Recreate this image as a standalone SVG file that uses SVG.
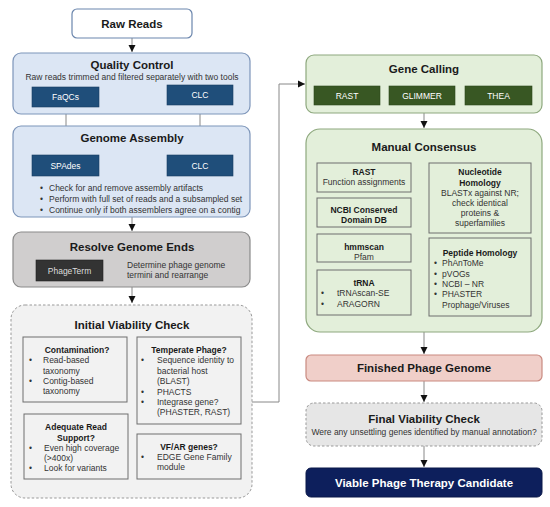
<svg xmlns="http://www.w3.org/2000/svg" width="550" height="507" viewBox="0 0 550 507">
<defs>
<marker id="ah" markerWidth="8" markerHeight="8" refX="7" refY="4" orient="auto" markerUnits="userSpaceOnUse">
<path d="M0,0.5 L7,4 L0,7.5 Z" fill="#111"/>
</marker>
<style>
text{font-family:"Liberation Sans",Arial,sans-serif;fill:#222}
.t{font-size:11.5px;font-weight:bold;text-anchor:middle;fill:#1a1a1a}
.s{font-size:8.5px;text-anchor:middle;fill:#333}
.b{font-size:8.5px;fill:#333}
.h{font-size:8.5px;font-weight:bold;text-anchor:middle;fill:#1a1a1a}
.w{font-size:8.5px;text-anchor:middle;fill:#fff}
.qc{fill:#dce6f4;stroke:#7d95b9;stroke-width:1.2}
.gc{fill:#e3efda;stroke:#8ea87e;stroke-width:1.2}
.blue{fill:#1f4e7a;stroke:#1a3f63;stroke-width:0.6}
.green{fill:#385723;stroke:#2c461c;stroke-width:0.6}
.inb{fill:#f2f2f2;stroke:#6e6e6e;stroke-width:1}
.ing{fill:#e3efda;stroke:#6e6e6e;stroke-width:1}
.conn{fill:none;stroke:#888;stroke-width:1;marker-end:url(#ah)}
</style>
</defs>

<g id="connectors">
<path class="conn" d="M132,38 V52"/>
<path class="conn" d="M66,107 V154"/>
<path class="conn" d="M200,105 V154"/>
<path class="conn" d="M132,217 V231"/>
<path class="conn" d="M132,287 V303"/>
<path class="conn" d="M252,402 H279 V84 H305"/>
<path class="conn" d="M424,113 V128"/>
<path class="conn" d="M424,332 V354"/>
<path class="conn" d="M424,381 V402"/>
<path class="conn" d="M424,446 V467"/>
</g>

<g id="raw-reads">
<rect x="72" y="9" width="120" height="29" rx="5" fill="#fff" stroke="#6b86ad" stroke-width="1.2"/>
<text class="t" x="132" y="28">Raw Reads</text>
</g>

<g id="quality-control">
<rect class="qc" x="13" y="53" width="237" height="61" rx="8"/>
<text class="t" x="132" y="69">Quality Control</text>
<text class="s" x="132" y="80">Raw reads trimmed and filtered separately with two tools</text>
<rect class="blue" x="32" y="87" width="67" height="20"/>
<text class="w" x="65.5" y="100">FaQCs</text>
<rect class="blue" x="167" y="85" width="66" height="20"/>
<text class="w" x="200" y="98">CLC</text>
</g>

<g id="genome-assembly">
<rect class="qc" x="13" y="126" width="237" height="91" rx="8"/>
<text class="t" x="132" y="142">Genome Assembly</text>
<rect class="blue" x="32" y="155" width="67" height="21"/>
<text class="w" x="65.5" y="169">SPAdes</text>
<rect class="blue" x="167" y="155" width="66" height="21"/>
<text class="w" x="200" y="169">CLC</text>
<text class="b" x="40" y="191">•</text>
<text class="b" x="49" y="191">Check for and remove assembly artifacts</text>
<text class="b" x="40" y="202">•</text>
<text class="b" x="49" y="202">Perform with full set of reads and a subsampled set</text>
<text class="b" x="40" y="213">•</text>
<text class="b" x="49" y="213">Continue only if both assemblers agree on a contig</text>
</g>

<g id="resolve-genome-ends">
<rect x="13" y="232" width="237" height="55" rx="8" fill="#d0cece" stroke="#8a8a8a" stroke-width="1.2"/>
<text class="t" x="132" y="251">Resolve Genome Ends</text>
<rect x="36" y="260" width="67" height="21" fill="#333" stroke="#222" stroke-width="0.6"/>
<text class="w" x="69.5" y="274" style="fill:#ddd">PhageTerm</text>
<text class="b" x="127" y="268">Determine phage genome</text>
<text class="b" x="127" y="278">termini and rearrange</text>
</g>

<g id="initial-viability-check">
<rect x="11" y="305" width="241" height="193" rx="14" fill="#f2f2f2" stroke="#999" stroke-width="1" stroke-dasharray="2.5,2"/>
<text class="t" x="132" y="329">Initial Viability Check</text>
<g id="contamination">
<rect class="inb" x="23" y="337" width="104" height="65"/>
<text class="h" x="77" y="353">Contamination?</text>
<text class="b" x="29" y="363">•</text><text class="b" x="43" y="363">Read-based</text>
<text class="b" x="43" y="374">taxonomy</text>
<text class="b" x="29" y="384">•</text><text class="b" x="43" y="384">Contig-based</text>
<text class="b" x="43" y="394">taxonomy</text>
</g>
<g id="temperate-phage">
<rect class="inb" x="137" y="337" width="104" height="87"/>
<text class="h" x="189" y="353">Temperate Phage?</text>
<text class="b" x="141" y="363">•</text><text class="b" x="157" y="363">Sequence identity to</text>
<text class="b" x="157" y="374">bacterial host</text>
<text class="b" x="157" y="384">(BLAST)</text>
<text class="b" x="141" y="395">•</text><text class="b" x="157" y="395">PHACTS</text>
<text class="b" x="141" y="405">•</text><text class="b" x="157" y="405">Integrase gene?</text>
<text class="b" x="157" y="415">(PHASTER, RAST)</text>
</g>
<g id="adequate-read-support">
<rect class="inb" x="24" y="414" width="104" height="65"/>
<text class="h" x="76" y="430">Adequate Read</text>
<text class="h" x="76" y="441">Support?</text>
<text class="b" x="29" y="451">•</text><text class="b" x="44" y="451">Even high coverage</text>
<text class="b" x="44" y="461">(&gt;400x)</text>
<text class="b" x="29" y="471">•</text><text class="b" x="44" y="471">Look for variants</text>
</g>
<g id="vf-ar-genes">
<rect class="inb" x="137" y="434" width="104" height="45"/>
<text class="h" x="189" y="450">VF/AR genes?</text>
<text class="b" x="141" y="460">•</text><text class="b" x="157" y="460">EDGE Gene Family</text>
<text class="b" x="157" y="470">module</text>
</g>
</g>

<g id="gene-calling">
<rect class="gc" x="306" y="55" width="236" height="58" rx="8"/>
<text class="t" x="424" y="73">Gene Calling</text>
<rect class="green" x="314" y="86" width="66" height="19"/>
<text class="w" x="347" y="99">RAST</text>
<rect class="green" x="389" y="86" width="66" height="19"/>
<text class="w" x="422" y="99">GLIMMER</text>
<rect class="green" x="465" y="86" width="67" height="19"/>
<text class="w" x="498.5" y="99">THEA</text>
</g>

<g id="manual-consensus">
<rect class="gc" x="306" y="129" width="236" height="203" rx="14"/>
<text class="t" x="424" y="151">Manual Consensus</text>
<g id="mc-rast">
<rect class="ing" x="317" y="163" width="94" height="29"/>
<text class="h" x="364" y="175">RAST</text>
<text class="s" x="364" y="185">Function assignments</text>
</g>
<g id="mc-ncbi">
<rect class="ing" x="317" y="198" width="94" height="29"/>
<text class="h" x="364" y="213">NCBI Conserved</text>
<text class="h" x="364" y="223">Domain DB</text>
</g>
<g id="mc-hmmscan">
<rect class="ing" x="317" y="234" width="94" height="28"/>
<text class="h" x="364" y="250">hmmscan</text>
<text class="s" x="364" y="260">Pfam</text>
</g>
<g id="mc-trna">
<rect class="ing" x="317" y="270" width="94" height="45"/>
<text class="h" x="364" y="286">tRNA</text>
<text class="b" x="321" y="296">•</text><text class="b" x="337" y="296">tRNAscan-SE</text>
<text class="b" x="321" y="307">•</text><text class="b" x="337" y="307">ARAGORN</text>
</g>
<g id="mc-nucleotide">
<rect class="ing" x="429" y="163" width="102" height="70"/>
<text class="h" x="480" y="175">Nucleotide</text>
<text class="h" x="480" y="186">Homology</text>
<text class="s" x="480" y="196">BLASTx against NR;</text>
<text class="s" x="480" y="206">check identical</text>
<text class="s" x="480" y="216">proteins &amp;</text>
<text class="s" x="480" y="226">superfamilies</text>
</g>
<g id="mc-peptide">
<rect class="ing" x="429" y="238" width="102" height="78"/>
<text class="h" x="480" y="256">Peptide Homology</text>
<text class="b" x="434" y="266">•</text><text class="b" x="442" y="266">PhAnToMe</text>
<text class="b" x="434" y="277">•</text><text class="b" x="442" y="277">pVOGs</text>
<text class="b" x="434" y="287">•</text><text class="b" x="442" y="287">NCBI – NR</text>
<text class="b" x="434" y="297">•</text><text class="b" x="442" y="297">PHASTER</text>
<text class="b" x="442" y="308">Prophage/Viruses</text>
</g>
</g>

<g id="finished-phage-genome">
<rect x="306" y="355" width="236" height="26" rx="5" fill="#f0cfc9" stroke="#c98a80" stroke-width="1.2"/>
<text class="t" x="424" y="372">Finished Phage Genome</text>
</g>

<g id="final-viability-check">
<rect x="306" y="403" width="236" height="43" rx="8" fill="#e6e6e6" stroke="#999" stroke-width="1" stroke-dasharray="2.5,2"/>
<text class="t" x="424" y="423">Final Viability Check</text>
<text class="s" x="424" y="435">Were any unsettling genes identified by manual annotation?</text>
</g>

<g id="viable-phage-therapy-candidate">
<rect x="306" y="468" width="236" height="29" rx="5" fill="#0d1f5c" stroke="#0a1848" stroke-width="1"/>
<text class="t" x="424" y="487" style="fill:#fff">Viable Phage Therapy Candidate</text>
</g>
</svg>
